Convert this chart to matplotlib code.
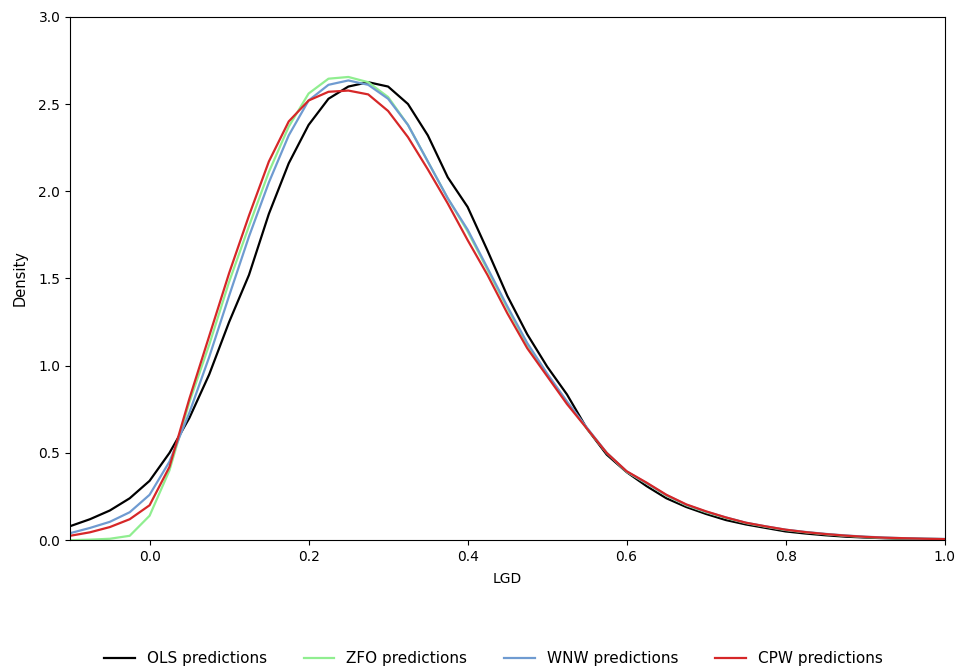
import numpy as np
import matplotlib
matplotlib.use("Agg")
import matplotlib.pyplot as plt

# x grid the curves were read on (LGD)
lgd = [-0.100, -0.075, -0.050, -0.025, 0.000, 0.025, 0.050, 0.075, 0.100,
       0.125, 0.150, 0.175, 0.200, 0.225, 0.250, 0.275, 0.300, 0.325,
       0.350, 0.375, 0.400, 0.425, 0.450, 0.475, 0.500, 0.525, 0.550,
       0.575, 0.600, 0.625, 0.650, 0.675, 0.700, 0.725, 0.750, 0.775,
       0.800, 0.825, 0.850, 0.875, 0.900, 0.925, 0.950, 0.975, 1.000]

# density estimates
ols = [0.08, 0.12, 0.17, 0.24, 0.34, 0.50, 0.70, 0.95, 1.25,
       1.52, 1.87, 2.16, 2.38, 2.53, 2.60, 2.625, 2.60, 2.50,
       2.32, 2.08, 1.91, 1.66, 1.40, 1.18, 0.995, 0.835, 0.64,
       0.49, 0.39, 0.31, 0.24, 0.19, 0.15, 0.115, 0.09, 0.07,
       0.05, 0.038, 0.028, 0.02, 0.015, 0.011, 0.008, 0.006, 0.005]

zfo = [0.0, 0.003, 0.008, 0.025, 0.14, 0.40, 0.79, 1.12, 1.48,
       1.80, 2.11, 2.37, 2.56, 2.645, 2.655, 2.625, 2.54, 2.38,
       2.17, 1.96, 1.77, 1.55, 1.33, 1.12, 0.95, 0.79, 0.64,
       0.50, 0.392, 0.325, 0.255, 0.20, 0.16, 0.127, 0.098, 0.077,
       0.058, 0.045, 0.034, 0.025, 0.018, 0.013, 0.010, 0.008, 0.006]

wnw = [0.04, 0.07, 0.105, 0.16, 0.26, 0.45, 0.73, 1.05, 1.40,
       1.74, 2.05, 2.32, 2.52, 2.61, 2.635, 2.61, 2.53, 2.38,
       2.17, 1.96, 1.78, 1.56, 1.34, 1.13, 0.955, 0.795, 0.645,
       0.50, 0.394, 0.327, 0.258, 0.203, 0.163, 0.13, 0.10, 0.079,
       0.06, 0.047, 0.036, 0.027, 0.02, 0.015, 0.011, 0.009, 0.007]

cpw = [0.025, 0.045, 0.075, 0.12, 0.20, 0.42, 0.81, 1.17, 1.53,
       1.86, 2.17, 2.40, 2.52, 2.57, 2.577, 2.555, 2.46, 2.31,
       2.125, 1.93, 1.72, 1.52, 1.30, 1.10, 0.94, 0.78, 0.64,
       0.50, 0.395, 0.33, 0.26, 0.205, 0.165, 0.13, 0.10, 0.079,
       0.06, 0.046, 0.035, 0.026, 0.019, 0.014, 0.011, 0.008, 0.006]

fig = plt.figure(figsize=(9.6, 6.71), dpi=100)
ax = fig.add_axes([0.073, 0.195, 0.911, 0.78])

ax.plot(lgd, ols, color="black", lw=1.6, label="OLS predictions")
ax.plot(lgd, zfo, color="lightgreen", lw=1.6, label="ZFO predictions")
ax.plot(lgd, wnw, color="#6f9bd1", lw=1.6, label="WNW predictions")
ax.plot(lgd, cpw, color="#d62728", lw=1.6, label="CPW predictions")

ax.set_xlim(-0.1, 1.0)
ax.set_ylim(0, 3.0)
ax.set_xlabel("LGD", labelpad=6)
ax.set_ylabel("Density", labelpad=8, fontsize=10.5)

fig.legend(loc="center", bbox_to_anchor=(0.514, 0.018), ncol=4,
           frameon=False, fontsize=11, columnspacing=2.4)

fig.savefig("out.png", dpi=100)
